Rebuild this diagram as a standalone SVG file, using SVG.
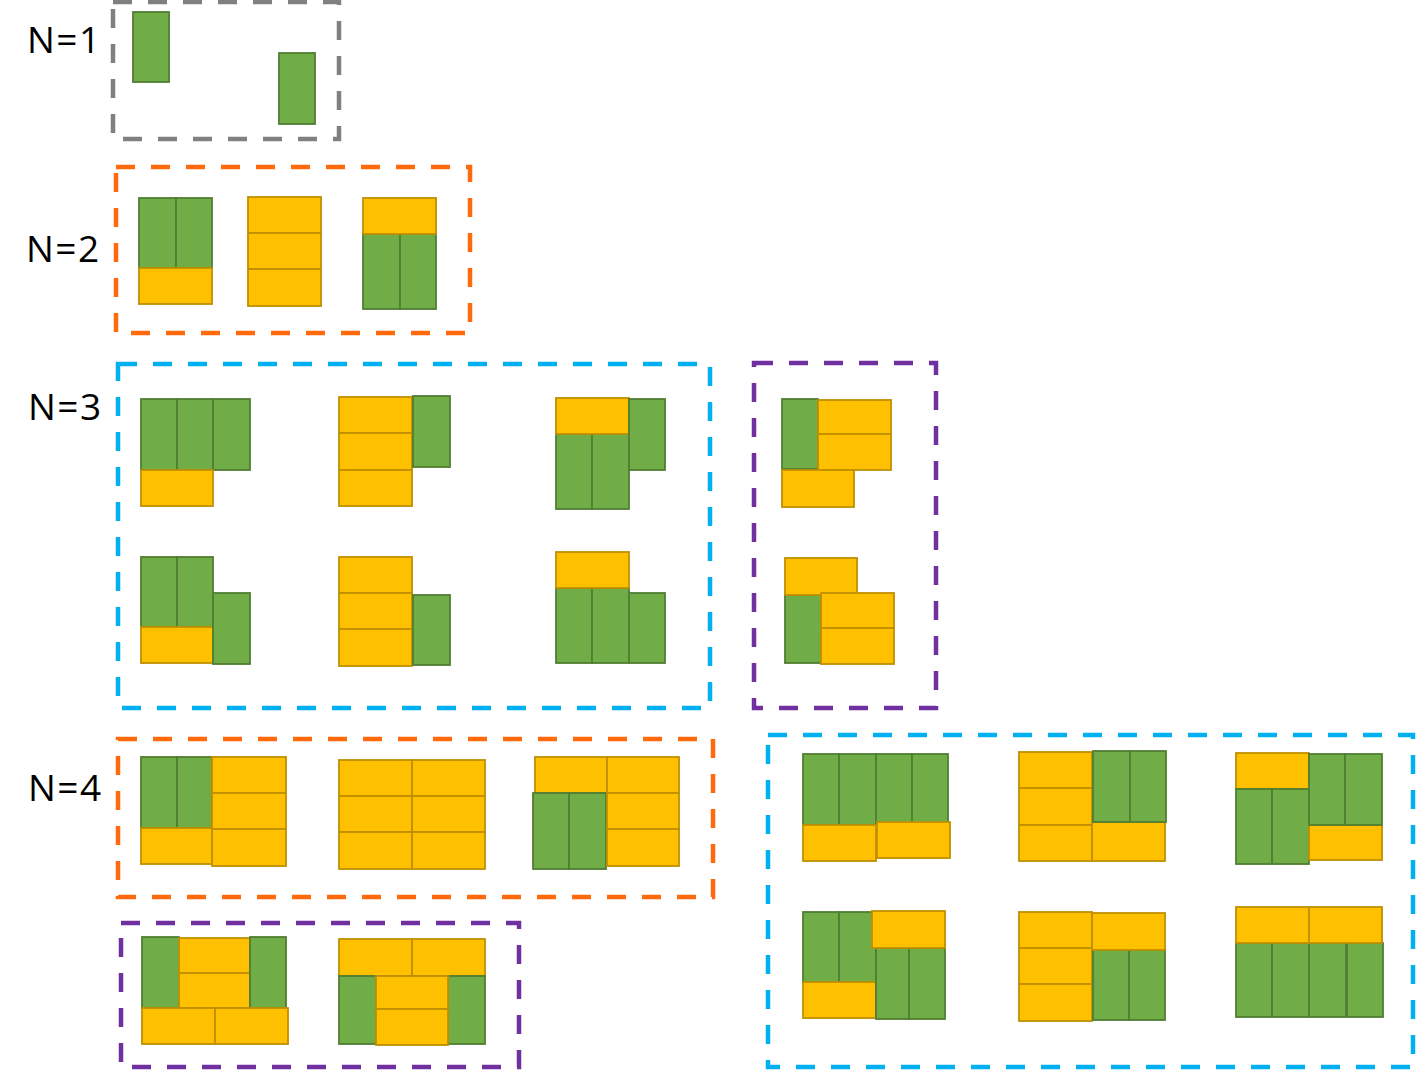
<svg xmlns="http://www.w3.org/2000/svg" width="1416" height="1070" viewBox="0 0 1416 1070">
<style>
.g{fill:#70AD47;stroke:#507E32;stroke-width:1.8}
.y{fill:#FFC000;stroke:#BF9000;stroke-width:1.8}
.box{fill:none;stroke-width:4.5;stroke-dasharray:19 16}
.lbl{font-family:"Open Sans","Noto Sans",sans-serif;font-size:37px;letter-spacing:1.5px;fill:#000}
</style>
<rect width="1416" height="1070" fill="#fff"/>
<g id="labels">
<text class="lbl" x="27" y="53">N=1</text>
<text class="lbl" x="26" y="262">N=2</text>
<text class="lbl" x="28" y="420">N=3</text>
<text class="lbl" x="28" y="801">N=4</text>
</g>
<g id="groups">
<rect class="box" x="113" y="2" width="226" height="137" stroke="#808080"/>
<rect class="box" x="116" y="167" width="354" height="166" stroke="#FF6A0D"/>
<rect class="box" x="118" y="364" width="592" height="344" stroke="#00B0F0"/>
<rect class="box" x="754" y="363" width="182" height="345" stroke="#7030A0"/>
<rect class="box" x="118" y="739" width="595" height="158" stroke="#FF6A0D"/>
<rect class="box" x="121" y="923" width="398" height="144" stroke="#7030A0"/>
<rect class="box" x="768" y="735" width="645" height="332" stroke="#00B0F0"/>
</g>
<g id="n1">
<rect class="g" x="133" y="12" width="36" height="70"/>
<rect class="g" x="279" y="53" width="36" height="71"/>
</g>
<g id="n2">
<g id="n2a"><rect class="g" x="139" y="198" width="37" height="70"/><rect class="g" x="176" y="198" width="36" height="70"/><rect class="y" x="139" y="268" width="73" height="36"/></g>
<g id="n2b"><rect class="y" x="248" y="197" width="73" height="36"/><rect class="y" x="248" y="233" width="73" height="36"/><rect class="y" x="248" y="269" width="73" height="37"/></g>
<g id="n2c"><rect class="g" x="363" y="234" width="37" height="75"/><rect class="g" x="400" y="234" width="36" height="75"/><rect class="y" x="363" y="198" width="73" height="36"/></g>
</g>
<g id="n3">
<g id="n3a"><rect class="g" x="141" y="399" width="36" height="71"/><rect class="g" x="177" y="399" width="36" height="71"/><rect class="g" x="213" y="399" width="37" height="71"/><rect class="y" x="141" y="470" width="72" height="36"/></g>
<g id="n3b"><rect class="y" x="339" y="397" width="73" height="36"/><rect class="y" x="339" y="433" width="73" height="37"/><rect class="y" x="339" y="470" width="73" height="36"/><rect class="g" x="413" y="396" width="37" height="71"/></g>
<g id="n3c"><rect class="g" x="556" y="434" width="36" height="75"/><rect class="g" x="592" y="434" width="37" height="75"/><rect class="y" x="556" y="398" width="73" height="36"/><rect class="g" x="629" y="399" width="36" height="71"/></g>
<g id="n3d"><rect class="g" x="141" y="557" width="36" height="70"/><rect class="g" x="177" y="557" width="36" height="70"/><rect class="y" x="141" y="627" width="72" height="36"/><rect class="g" x="213" y="593" width="37" height="71"/></g>
<g id="n3e"><rect class="y" x="339" y="557" width="73" height="36"/><rect class="y" x="339" y="593" width="73" height="36"/><rect class="y" x="339" y="629" width="73" height="37"/><rect class="g" x="413" y="595" width="37" height="70"/></g>
<g id="n3f"><rect class="g" x="556" y="588" width="36" height="75"/><rect class="g" x="592" y="588" width="37" height="75"/><rect class="g" x="629" y="593" width="36" height="70"/><rect class="y" x="556" y="552" width="73" height="36"/></g>
<g id="n3g"><rect class="g" x="782" y="399" width="36" height="70"/><rect class="y" x="818" y="400" width="73" height="34"/><rect class="y" x="818" y="434" width="73" height="36"/><rect class="y" x="782" y="470" width="72" height="37"/></g>
<g id="n3h"><rect class="g" x="785" y="595" width="36" height="68"/><rect class="y" x="785" y="558" width="72" height="37"/><rect class="y" x="821" y="593" width="73" height="35"/><rect class="y" x="821" y="628" width="73" height="36"/></g>
</g>
<g id="n4">
<g id="n4a"><rect class="g" x="141" y="757" width="36" height="71"/><rect class="g" x="177" y="757" width="35" height="71"/><rect class="y" x="141" y="828" width="71" height="36"/><rect class="y" x="212" y="757" width="74" height="36"/><rect class="y" x="212" y="793" width="74" height="36"/><rect class="y" x="212" y="829" width="74" height="37"/></g>
<g id="n4b"><rect class="y" x="339" y="760" width="73" height="36"/><rect class="y" x="412" y="760" width="73" height="36"/><rect class="y" x="339" y="796" width="73" height="36"/><rect class="y" x="412" y="796" width="73" height="36"/><rect class="y" x="339" y="832" width="73" height="37"/><rect class="y" x="412" y="832" width="73" height="37"/></g>
<g id="n4c"><rect class="y" x="535" y="757" width="72" height="36"/><rect class="y" x="607" y="757" width="72" height="36"/><rect class="g" x="533" y="793" width="36" height="76"/><rect class="g" x="569" y="793" width="37" height="76"/><rect class="y" x="607" y="793" width="72" height="36"/><rect class="y" x="607" y="829" width="72" height="37"/></g>
<g id="n4d"><rect class="g" x="142" y="937" width="37" height="71"/><rect class="y" x="179" y="938" width="71" height="35"/><rect class="y" x="179" y="973" width="71" height="35"/><rect class="g" x="250" y="937" width="36" height="71"/><rect class="y" x="142" y="1008" width="73" height="36"/><rect class="y" x="215" y="1008" width="73" height="36"/></g>
<g id="n4e"><rect class="y" x="339" y="939" width="73" height="37"/><rect class="y" x="412" y="939" width="73" height="37"/><rect class="g" x="339" y="976" width="37" height="68"/><rect class="g" x="448" y="976" width="37" height="68"/><rect class="y" x="376" y="976" width="72" height="33"/><rect class="y" x="376" y="1009" width="72" height="36"/></g>
<g id="n4f"><rect class="g" x="803" y="754" width="36" height="71"/><rect class="g" x="839" y="754" width="37" height="71"/><rect class="g" x="876" y="754" width="36" height="71"/><rect class="g" x="912" y="754" width="36" height="71"/><rect class="y" x="803" y="825" width="73" height="36"/><rect class="y" x="877" y="822" width="73" height="36"/></g>
<g id="n4g"><rect class="y" x="1019" y="752" width="73" height="36"/><rect class="y" x="1019" y="788" width="73" height="37"/><rect class="y" x="1019" y="825" width="73" height="36"/><rect class="y" x="1092" y="822" width="73" height="39"/><rect class="g" x="1093" y="751" width="37" height="71"/><rect class="g" x="1130" y="751" width="36" height="71"/></g>
<g id="n4h"><rect class="y" x="1236" y="753" width="73" height="36"/><rect class="g" x="1236" y="789" width="36" height="75"/><rect class="g" x="1272" y="789" width="37" height="75"/><rect class="y" x="1309" y="824" width="73" height="36"/><rect class="g" x="1309" y="754" width="36" height="71"/><rect class="g" x="1345" y="754" width="37" height="71"/></g>
<g id="n4i"><rect class="g" x="803" y="912" width="36" height="70"/><rect class="g" x="839" y="912" width="37" height="70"/><rect class="y" x="803" y="982" width="73" height="36"/><rect class="g" x="876" y="948" width="33" height="71"/><rect class="g" x="909" y="948" width="36" height="71"/><rect class="y" x="872" y="911" width="73" height="37"/></g>
<g id="n4j"><rect class="y" x="1019" y="912" width="73" height="36"/><rect class="y" x="1019" y="948" width="73" height="36"/><rect class="y" x="1019" y="984" width="73" height="37"/><rect class="g" x="1093" y="950" width="36" height="70"/><rect class="g" x="1129" y="950" width="36" height="70"/><rect class="y" x="1092" y="913" width="73" height="37"/></g>
<g id="n4k"><rect class="g" x="1236" y="943" width="36" height="74"/><rect class="g" x="1272" y="943" width="37" height="74"/><rect class="g" x="1309" y="943" width="37" height="74"/><rect class="g" x="1347" y="943" width="36" height="74"/><rect class="y" x="1236" y="907" width="73" height="36"/><rect class="y" x="1309" y="907" width="73" height="36"/></g>
</g>
<g id="connectors"/>
</svg>
